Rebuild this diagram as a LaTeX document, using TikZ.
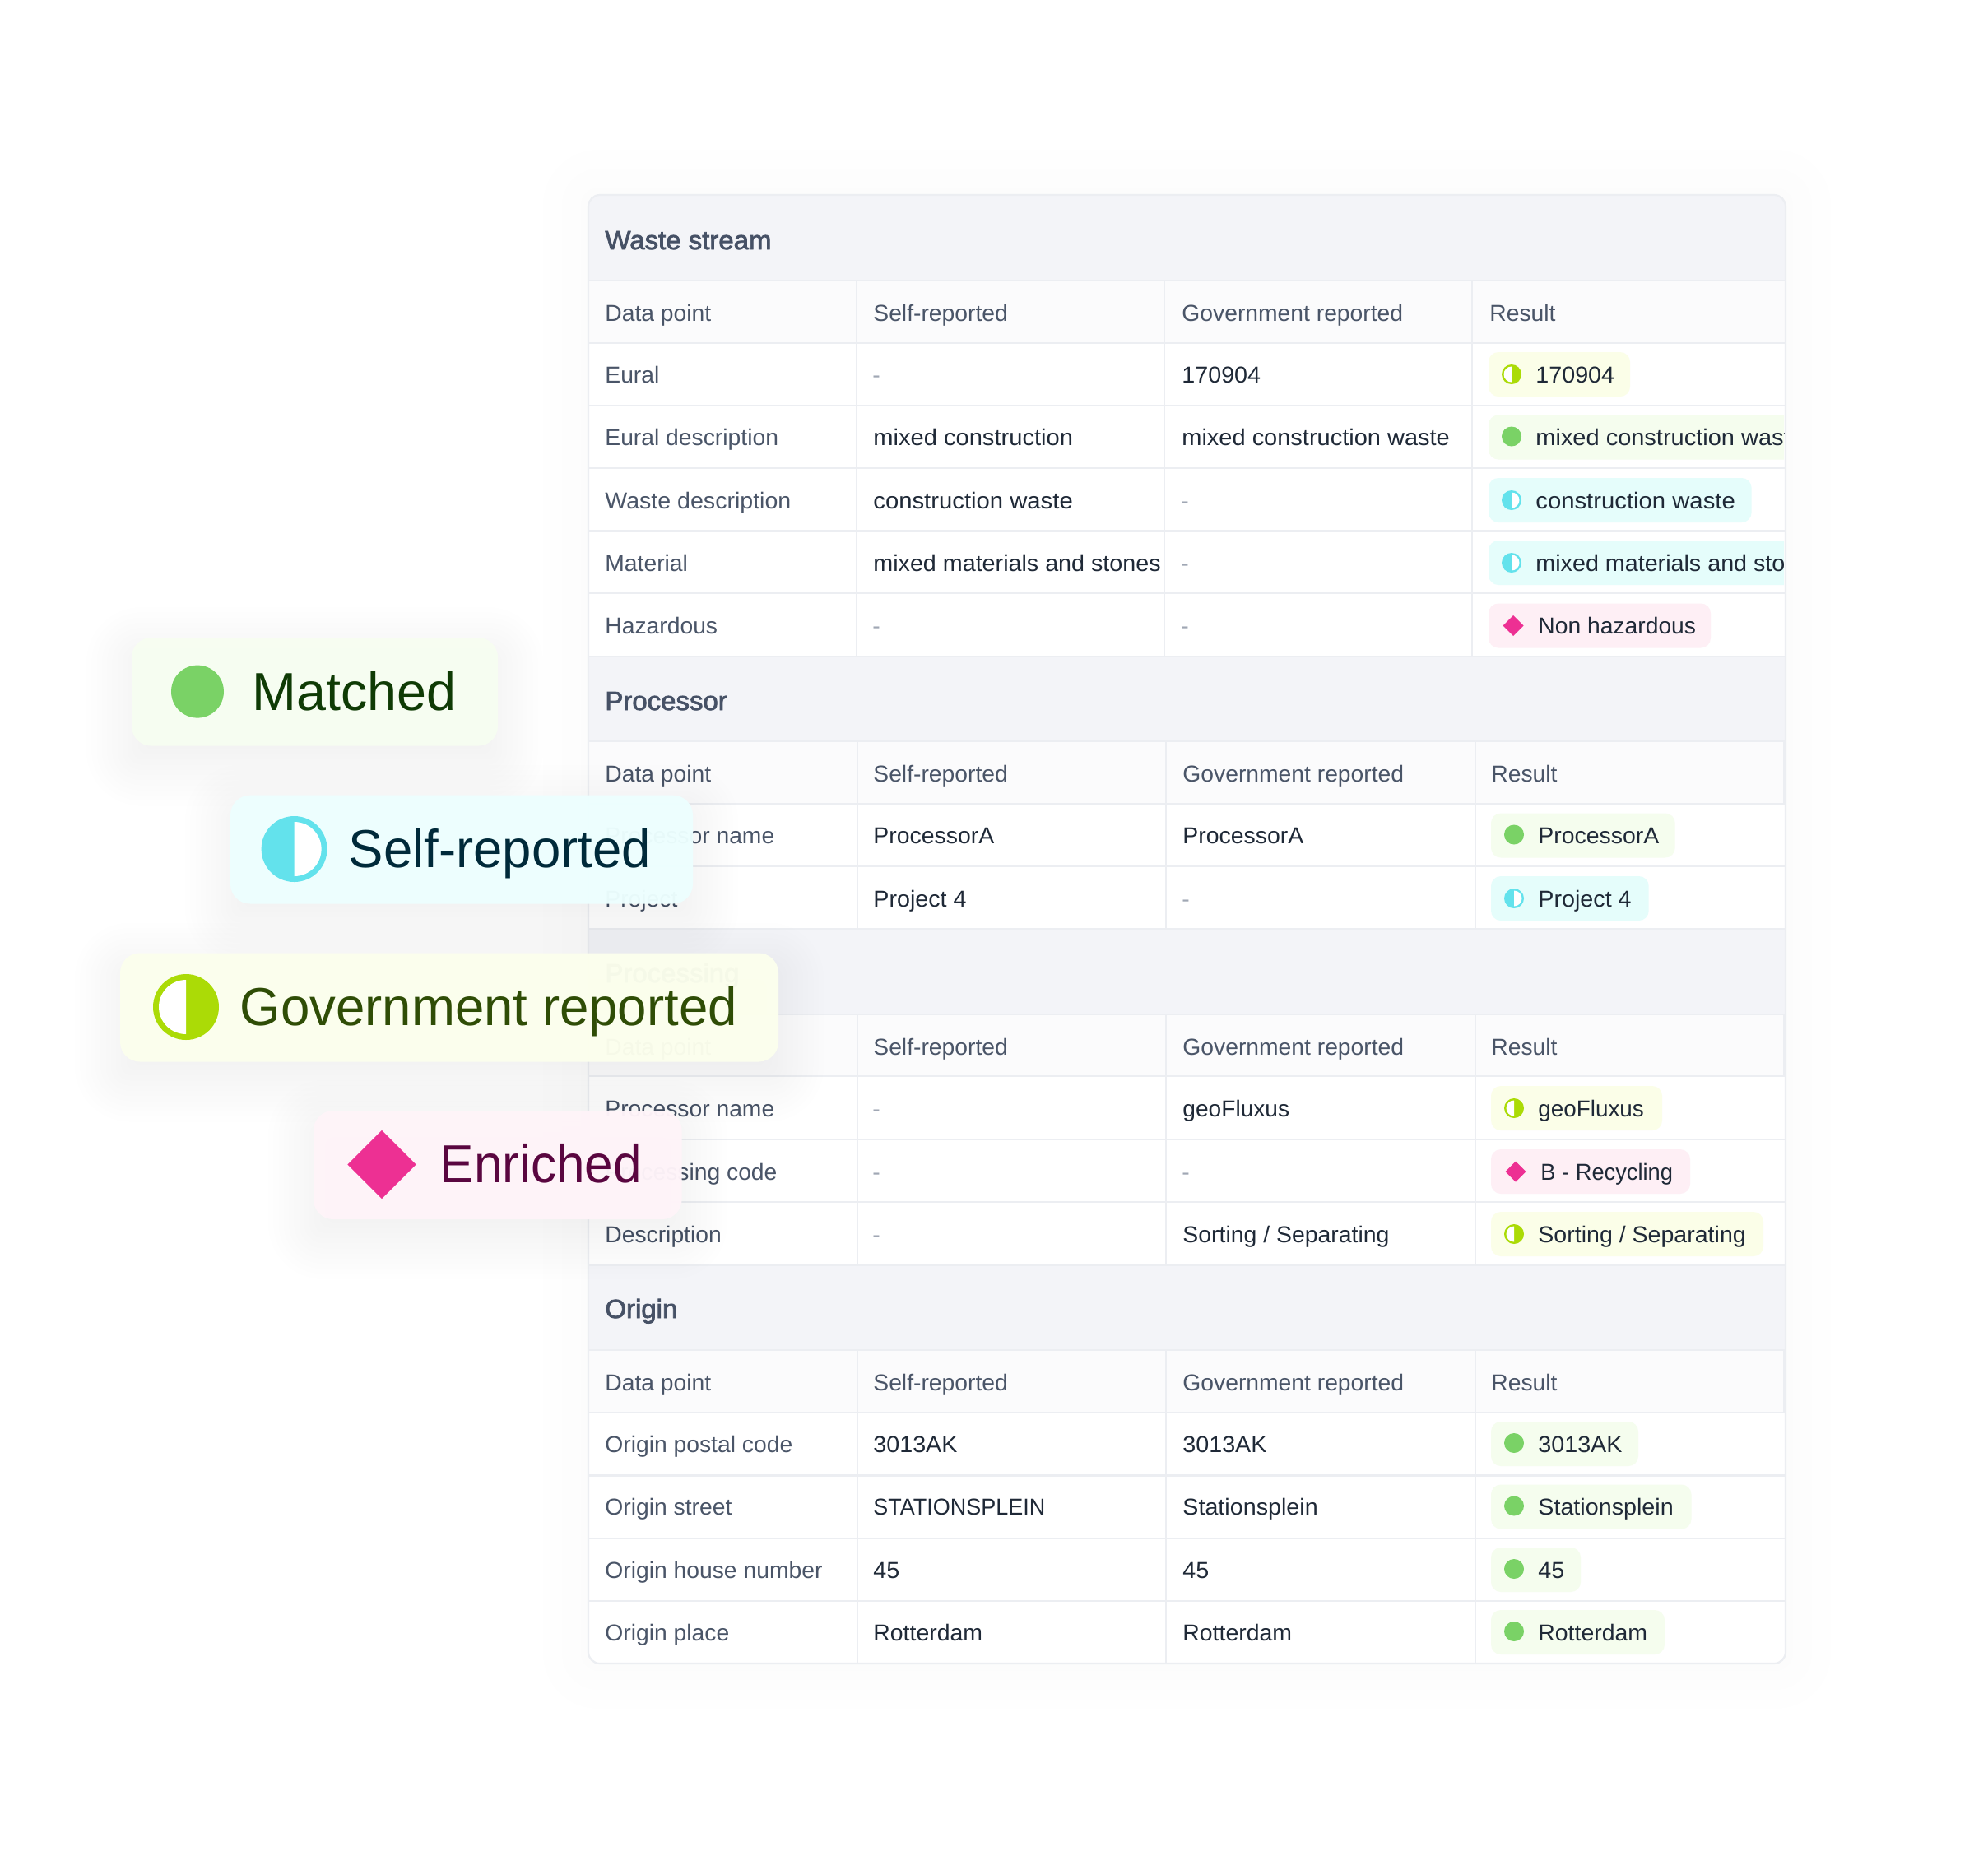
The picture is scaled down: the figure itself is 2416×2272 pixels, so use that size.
\documentclass[tikz,border=0pt]{standalone}
\usepackage{graphicx}
\usepackage{fontspec}
\setmainfont[FakeStretch=1.01]{Liberation Sans}
\newfontfamily\valfont[FakeStretch=1.025]{Liberation Sans}
\newfontfamily\medfont[FakeBold=2.4,FakeStretch=1.03]{Liberation Sans}
\definecolor{linec}{HTML}{ECEEF2}
\definecolor{bandc}{HTML}{F3F4F8}
\definecolor{headc}{HTML}{FBFBFC}
\definecolor{labc}{HTML}{4A5568}
\definecolor{valc}{HTML}{1F2937}
\definecolor{dashc}{HTML}{A0A7B4}
\definecolor{secc}{HTML}{465166}
\definecolor{gr}{HTML}{7AD266}
\definecolor{cy}{HTML}{63E2EC}
\definecolor{li}{HTML}{ABDB06}
\definecolor{pk}{HTML}{ED3093}
\definecolor{grb}{HTML}{F5FDEE}
\definecolor{cyb}{HTML}{E5FDFB}
\definecolor{lib}{HTML}{FBFEE8}
\definecolor{pkb}{HTML}{FEEFF5}
\definecolor{fA}{HTML}{F7FEF1}
\definecolor{fB}{HTML}{EDFFFF}
\definecolor{fC}{HTML}{FCFFED}
\definecolor{fD}{HTML}{FFF4F9}
\definecolor{tA}{HTML}{0F3B05}
\definecolor{tB}{HTML}{002A3A}
\definecolor{tC}{HTML}{2F4D06}
\definecolor{tD}{HTML}{5A0640}
\newcounter{tn}
\newcommand\tbl{\fontsize{14}{16}\selectfont}
\newcommand\tval{\fontsize{14}{16}\selectfont\valfont}
\newcommand\tsec{\fontsize{16}{18}\selectfont\medfont}
\newcommand\tbig{\fontsize{32.5}{36}\selectfont}
\newcommand\sx[2]{\scalebox{#1}[1]{#2}}
\newcommand\txt[4]{\stepcounter{tn}\node[#1] (t\arabic{tn}) at (#2,#3) {#4};}
\newcommand\softshadow[7]{% x1 y1 x2 y2 spread steps dy
  \foreach \i in {1,...,#6}{
    \pgfmathsetmacro\e{#5*(1-1.25*(\i-1)/(#6-1))}
    \pgfmathsetmacro\rc{max(6,6+0.5*\e)}
    \fill[black,fill opacity=0.003,rounded corners=\rc pt] ({#1-\e},{#2-\e+#7}) rectangle ({#3+\e},{#4+\e+#7});
  }}
\newcommand\halfr[5]{% x y r t col : white on right
  \fill[#5] (#1,#2) circle (#3);
  \begin{scope}\clip (#1,{#2-#3}) rectangle ({#1+#3},{#2+#3});\fill[white] (#1,#2) circle ({#3-#4});\end{scope}}
\newcommand\halfl[5]{% white on left
  \fill[#5] (#1,#2) circle (#3);
  \begin{scope}\clip ({#1-#3},{#2-#3}) rectangle (#1,{#2+#3});\fill[white] (#1,#2) circle ({#3-#4});\end{scope}}
\newcommand\dia[4]{\fill[#4] ({#1-#3},#2) -- (#1,{#2-#3}) -- ({#1+#3},#2) -- (#1,{#2+#3}) -- cycle;}
% result pills: x centre x2 text
\newcommand\pillbg[4]{\fill[#4,rounded corners=6pt] (#1,{#2-27}) rectangle (#3,{#2+27});}
\newcommand\pG[4]{\pillbg{#1}{#2}{#3}{grb}\fill[gr] ({#1+28},{#2-1}) circle (12);\txt{val}{#1+57}{#2+10}{#4}}
\newcommand\pC[4]{\pillbg{#1}{#2}{#3}{cyb}\halfr{#1+28}{#2}{12}{2.5}{cy}\txt{val}{#1+57}{#2+10}{#4}}
\newcommand\pL[4]{\pillbg{#1}{#2}{#3}{lib}\halfl{#1+28}{#2}{12}{2.5}{li}\txt{val}{#1+57}{#2+10}{#4}}
\newcommand\pP[4]{\pillbg{#1}{#2}{#3}{pkb}\dia{#1+30}{#2}{12.5}{pk}\txt{val}{#1+60}{#2+10}{#4}}
\newcommand\hdrow[3]{% centre xgov xres
  \txt{lab}{735}{#1+10}{Data point}\txt{lab}{1061}{#1+10}{Self-reported}\txt{lab}{#2}{#1+10}{Government reported}\txt{lab}{#3}{#1+10}{Result}}
\tikzset{
  lab/.style={anchor=base west,inner sep=0pt,text=labc,font=\tbl},
  val/.style={anchor=base west,inner sep=0pt,text=valc,font=\tval},
  nil/.style={anchor=base west,inner sep=0pt,text=dashc,font=\tbl},
  sect/.style={anchor=base west,inner sep=0pt,text=secc,font=\tsec},
  big/.style={anchor=base west,inner sep=0pt,font=\tbig},
  rule/.style={linec,line width=1.1pt}
}
\begin{document}
\begin{tikzpicture}[x=0.5pt,y=-0.5pt]
\useasboundingbox (0,0) rectangle (2416,2272);
\fill[white] (0,0) rectangle (2416,2272);
% table shadow
\softshadow{715}{237}{2170}{2022}{55}{4}{0}
\fill[white,rounded corners=7pt] (715,237) rectangle (2170,2022);
\begin{scope}
\clip[rounded corners=7pt] (715,237) rectangle (2170,2022);
% bands
\fill[bandc] (715,237) rectangle (2170,341);
\fill[bandc] (715,798) rectangle (2170,901);
\fill[bandc] (715,1129) rectangle (2170,1233);
\fill[bandc] (715,1538) rectangle (2170,1641);
% column heads
\fill[headc] (715,341) rectangle (2170,417);
\fill[headc] (715,901) rectangle (2170,977);
\fill[headc] (715,1233) rectangle (2170,1308);
\fill[headc] (715,1641) rectangle (2170,1717);
% horizontal rules
\foreach \yy in {341,417,493,569,645.5,721,798,901,977,1053,1129,1233,1308,1385,1461,1538,1641,1717,1793.5,1870,1946}
  \draw[rule] (715,\yy) -- (2170,\yy);
% vertical rules
\foreach \xx in {1041,1415,1789} \draw[rule] (\xx,341) -- (\xx,798);
\foreach \xx in {1042,1417,1793}{
  \draw[rule] (\xx,901) -- (\xx,1129);
  \draw[rule] (\xx,1233) -- (\xx,1538);
  \draw[rule] (\xx,1641) -- (\xx,2022);
}
% thicker right edge of the lower column heads
\fill[linec] (2167,901) rectangle (2170,977);
\fill[linec] (2167,1233) rectangle (2170,1308);
\fill[linec] (2167,1641) rectangle (2170,1717);
\end{scope}
\draw[rule,rounded corners=7pt] (715,237) rectangle (2170,2022);
% section titles
\txt{sect}{735}{303}{Waste stream}
\txt{sect}{735}{863}{Processor}
\txt{sect}{735}{1194}{Processing}
\txt{sect}{735}{1602}{Origin}
% column headings
\hdrow{380.5}{1436}{1810}
\hdrow{940}{1437}{1812}
\hdrow{1272.5}{1437}{1812}
\hdrow{1680}{1437}{1812}
% table 1
\txt{lab}{735}{465}{Eural}\txt{nil}{1060}{465}{-}\txt{val}{1436}{465}{170904}
\txt{lab}{735}{541.5}{Eural description}\txt{val}{1061}{541.5}{\sx{1.014}{mixed construction}}\txt{val}{1436}{541.5}{\sx{1.01}{mixed construction waste}}
\txt{lab}{735}{618}{\sx{1.01}{Waste description}}\txt{val}{1061}{618}{\sx{1.02}{construction waste}}\txt{nil}{1435}{618}{-}
\txt{lab}{735}{694}{Material}\txt{val}{1061}{694}{mixed materials and stones}\txt{nil}{1435}{694}{-}
\txt{lab}{735}{770.5}{Hazardous}\txt{nil}{1060}{770.5}{-}\txt{nil}{1435}{770.5}{-}
% table 2
\txt{lab}{735}{1025.5}{Processor name}\txt{val}{1061}{1025.5}{\sx{0.99}{ProcessorA}}\txt{val}{1437}{1025.5}{\sx{0.99}{ProcessorA}}
\txt{lab}{735}{1102.5}{Project}\txt{val}{1061}{1102.5}{Project 4}\txt{nil}{1436}{1102.5}{-}
% table 3
\txt{lab}{735}{1357}{Processor name}\txt{nil}{1060}{1357}{-}\txt{val}{1437}{1357}{\sx{0.98}{geoFluxus}}
\txt{lab}{735}{1434}{Processing code}\txt{nil}{1060}{1434}{-}\txt{nil}{1436}{1434}{-}
\txt{lab}{735}{1510}{Description}\txt{nil}{1060}{1510}{-}\txt{val}{1437}{1510}{\sx{0.99}{Sorting / Separating}}
% table 4
\txt{lab}{735}{1765}{Origin postal code}\txt{val}{1061}{1765}{3013AK}\txt{val}{1437}{1765}{3013AK}
\txt{lab}{735}{1841.5}{Origin street}\txt{val}{1061}{1841.5}{\sx{0.94}{STATIONSPLEIN}}\txt{val}{1437}{1841.5}{Stationsplein}
\txt{lab}{735}{1918}{Origin house number}\txt{val}{1061}{1918}{45}\txt{val}{1437}{1918}{45}
\txt{lab}{735}{1994}{Origin place}\txt{val}{1061}{1994}{\sx{0.99}{Rotterdam}}\txt{val}{1437}{1994}{\sx{0.99}{Rotterdam}}
% result pills
\begin{scope}
\clip (1790,238) rectangle (2168,2021);
\pL{1809}{455}{1981}{170904}
\pG{1809}{531.5}{2200}{\sx{1.01}{mixed construction waste}}
\pC{1809}{608}{2128.6}{\sx{1.02}{construction waste}}
\pC{1809}{684}{2200}{mixed materials and stones}
\pP{1809}{760.5}{2079}{\sx{0.985}{Non hazardous}}
\pG{1812}{1015.5}{2035.7}{\sx{0.99}{ProcessorA}}
\pC{1812}{1092}{2003.7}{Project 4}
\pL{1812}{1347}{2020}{\sx{0.97}{geoFluxus}}
\pP{1812}{1424}{2054}{\sx{0.95}{B - Recycling}}
\pL{1812}{1500}{2143}{\sx{0.995}{Sorting / Separating}}
\pG{1812}{1755}{1991}{3013AK}
\pG{1812}{1831.5}{2055.5}{Stationsplein}
\pG{1812}{1908}{1921}{45}
\pG{1812}{1984}{2023}{\sx{0.99}{Rotterdam}}
\end{scope}
% floating labels
\softshadow{160}{775}{605}{906.6}{55}{12}{18}
\fill[fA,fill opacity=0.97,rounded corners=12pt] (160,775) rectangle (605,906.6);
\fill[gr] (240,840.6) circle (32);
\txt{big,text=tA}{306}{863.5}{\resizebox{124pt}{\height}{Matched}}
\softshadow{280}{966.7}{842}{1098.5}{55}{12}{18}
\fill[fB,fill opacity=0.97,rounded corners=12pt] (280,966.7) rectangle (842,1098.5);
\halfr{357.6}{1032}{40}{7}{cy}
\txt{big,text=tB}{423.5}{1054.5}{\resizebox{183.5pt}{\height}{Self-reported}}
\softshadow{146}{1158.5}{946}{1290.5}{55}{12}{18}
\fill[fC,fill opacity=0.97,rounded corners=12pt] (146,1158.5) rectangle (946,1290.5);
\halfl{226}{1224}{40}{7}{li}
\txt{big,text=tC}{291.5}{1246.5}{\resizebox{302pt}{\height}{Government reported}}
\softshadow{381}{1350}{828.6}{1482}{55}{12}{18}
\fill[fD,fill opacity=0.97,rounded corners=12pt] (381,1350) rectangle (828.6,1482);
\dia{464}{1415.5}{41.7}{pk}
\txt{big,text=tD}{534.5}{1437.5}{\resizebox{122.5pt}{\height}{Enriched}}
\end{tikzpicture}
\end{document}
